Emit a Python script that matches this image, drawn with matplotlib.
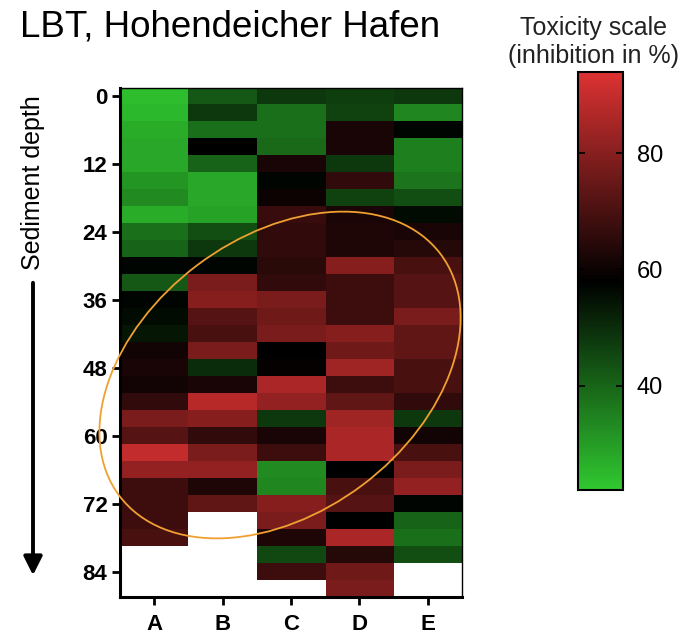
import numpy as np
import matplotlib
matplotlib.use('Agg')
import matplotlib.pyplot as plt
from matplotlib.colors import LinearSegmentedColormap
from matplotlib.patches import Ellipse

plt.rcParams['font.family'] = ['Liberation Sans', 'DejaVu Sans']

# inhibition in % per 3 cm slice, top to bottom, for each core
columns = ['A', 'B', 'C', 'D', 'E']
depth_ticks = [0, 12, 24, 36, 48, 60, 72, 84]
col_a = [24, 25, 27, 28, 28, 31, 33, 27, 38, 40,
         57, 42, 57, 56, 54, 61, 62, 61, 66, 78,
         72, 90, 82, 68, 68, 68, 70]
col_b = [42, 48, 38, 58, 40, 28, 28, 29, 44, 48,
         57, 78, 80, 72, 70, 78, 50, 62, 88, 80,
         66, 78, 82, 63, 74]
col_c = [48, 38, 38, 39, 62, 57, 60, 67, 66, 66,
         65, 66, 78, 76, 78, 58, 59, 86, 82, 48,
         62, 68, 33, 34, 80, 78, 63, 45, 68]
col_d = [47, 46, 62, 62, 48, 66, 46, 62, 63, 63,
         80, 68, 68, 68, 80, 76, 84, 68, 74, 84,
         86, 86, 58, 70, 72, 58, 86, 64, 76, 78]
col_e = [48, 34, 57, 35, 35, 37, 44, 56, 62, 64,
         70, 72, 72, 78, 74, 74, 70, 70, 66, 48,
         61, 70, 78, 82, 57, 40, 38, 44]

cores = [col_a, col_b, col_c, col_d, col_e]
n_rows = max(len(c) for c in cores)
grid = np.full((n_rows, len(cores)), np.nan)
for j, c in enumerate(cores):
    grid[:len(c), j] = c
grid = np.ma.masked_invalid(grid)

cmap = LinearSegmentedColormap.from_list('tox', ['#30c830', '#000000', '#dc3232'])
cmap.set_bad('white')

fig = plt.figure(figsize=(6.96, 6.39), dpi=100)
ax = fig.add_axes([0.1724, 0.0657, 0.4914, 0.7966])
im = ax.imshow(grid, cmap=cmap, vmin=22, vmax=94, aspect='auto',
               interpolation='nearest',
               extent=(-0.5, len(cores) - 0.5, n_rows * 3 - 1.5, -1.5))
ax.set_xticks(range(len(columns)))
ax.set_xticklabels(columns, fontsize=16, fontweight='bold')
ax.set_yticks(depth_ticks)
ax.set_yticklabels([str(t) for t in depth_ticks], fontsize=16, fontweight='bold')
ax.tick_params(axis='both', length=6, width=2, direction='out')
ax.tick_params(axis='x', pad=6)
ax.tick_params(axis='y', pad=3)
for side in ['left', 'bottom']:
    ax.spines[side].set_linewidth(2.2)
for side in ['top', 'right']:
    ax.spines[side].set_linewidth(1.0)

# colour bar
cax = fig.add_axes([0.8305, 0.2332, 0.0647, 0.654])
cb = fig.colorbar(im, cax=cax, ticks=[40, 60, 80])
cb.outline.set_linewidth(1.5)
cax.tick_params(direction='in', left=True, right=True, length=5, width=1.2,
                labelsize=17, pad=10)

fig.text(20 / 696, 1 - 27 / 639, 'LBT, Hohendeicher Hafen', fontsize=26.5,
         ha='left', va='center')
fig.text(594 / 696, 1 - 42 / 639, 'Toxicity scale\n(inhibition in %)', fontsize=18,
         ha='center', va='center', linespacing=1.2, color='#222222')
fig.text(33 / 696, 1 - 183 / 639, 'Sediment depth', fontsize=18, rotation=90,
         ha='center', va='center')

# overlay in pixel coordinates for the arrow and the ellipse
ov = fig.add_axes([0, 0, 1, 1], zorder=10)
ov.set_xlim(0, 696)
ov.set_ylim(639, 0)
ov.set_axis_off()
ov.annotate('', xy=(33, 578), xytext=(33, 280),
            arrowprops=dict(arrowstyle='-|>', lw=2.8, color='black',
                            mutation_scale=28))
ov.add_patch(Ellipse((280, 375), 402, 275, angle=-37, fill=False,
                     edgecolor='#f0a030', lw=1.3))

plt.savefig('out.png', dpi=100)
